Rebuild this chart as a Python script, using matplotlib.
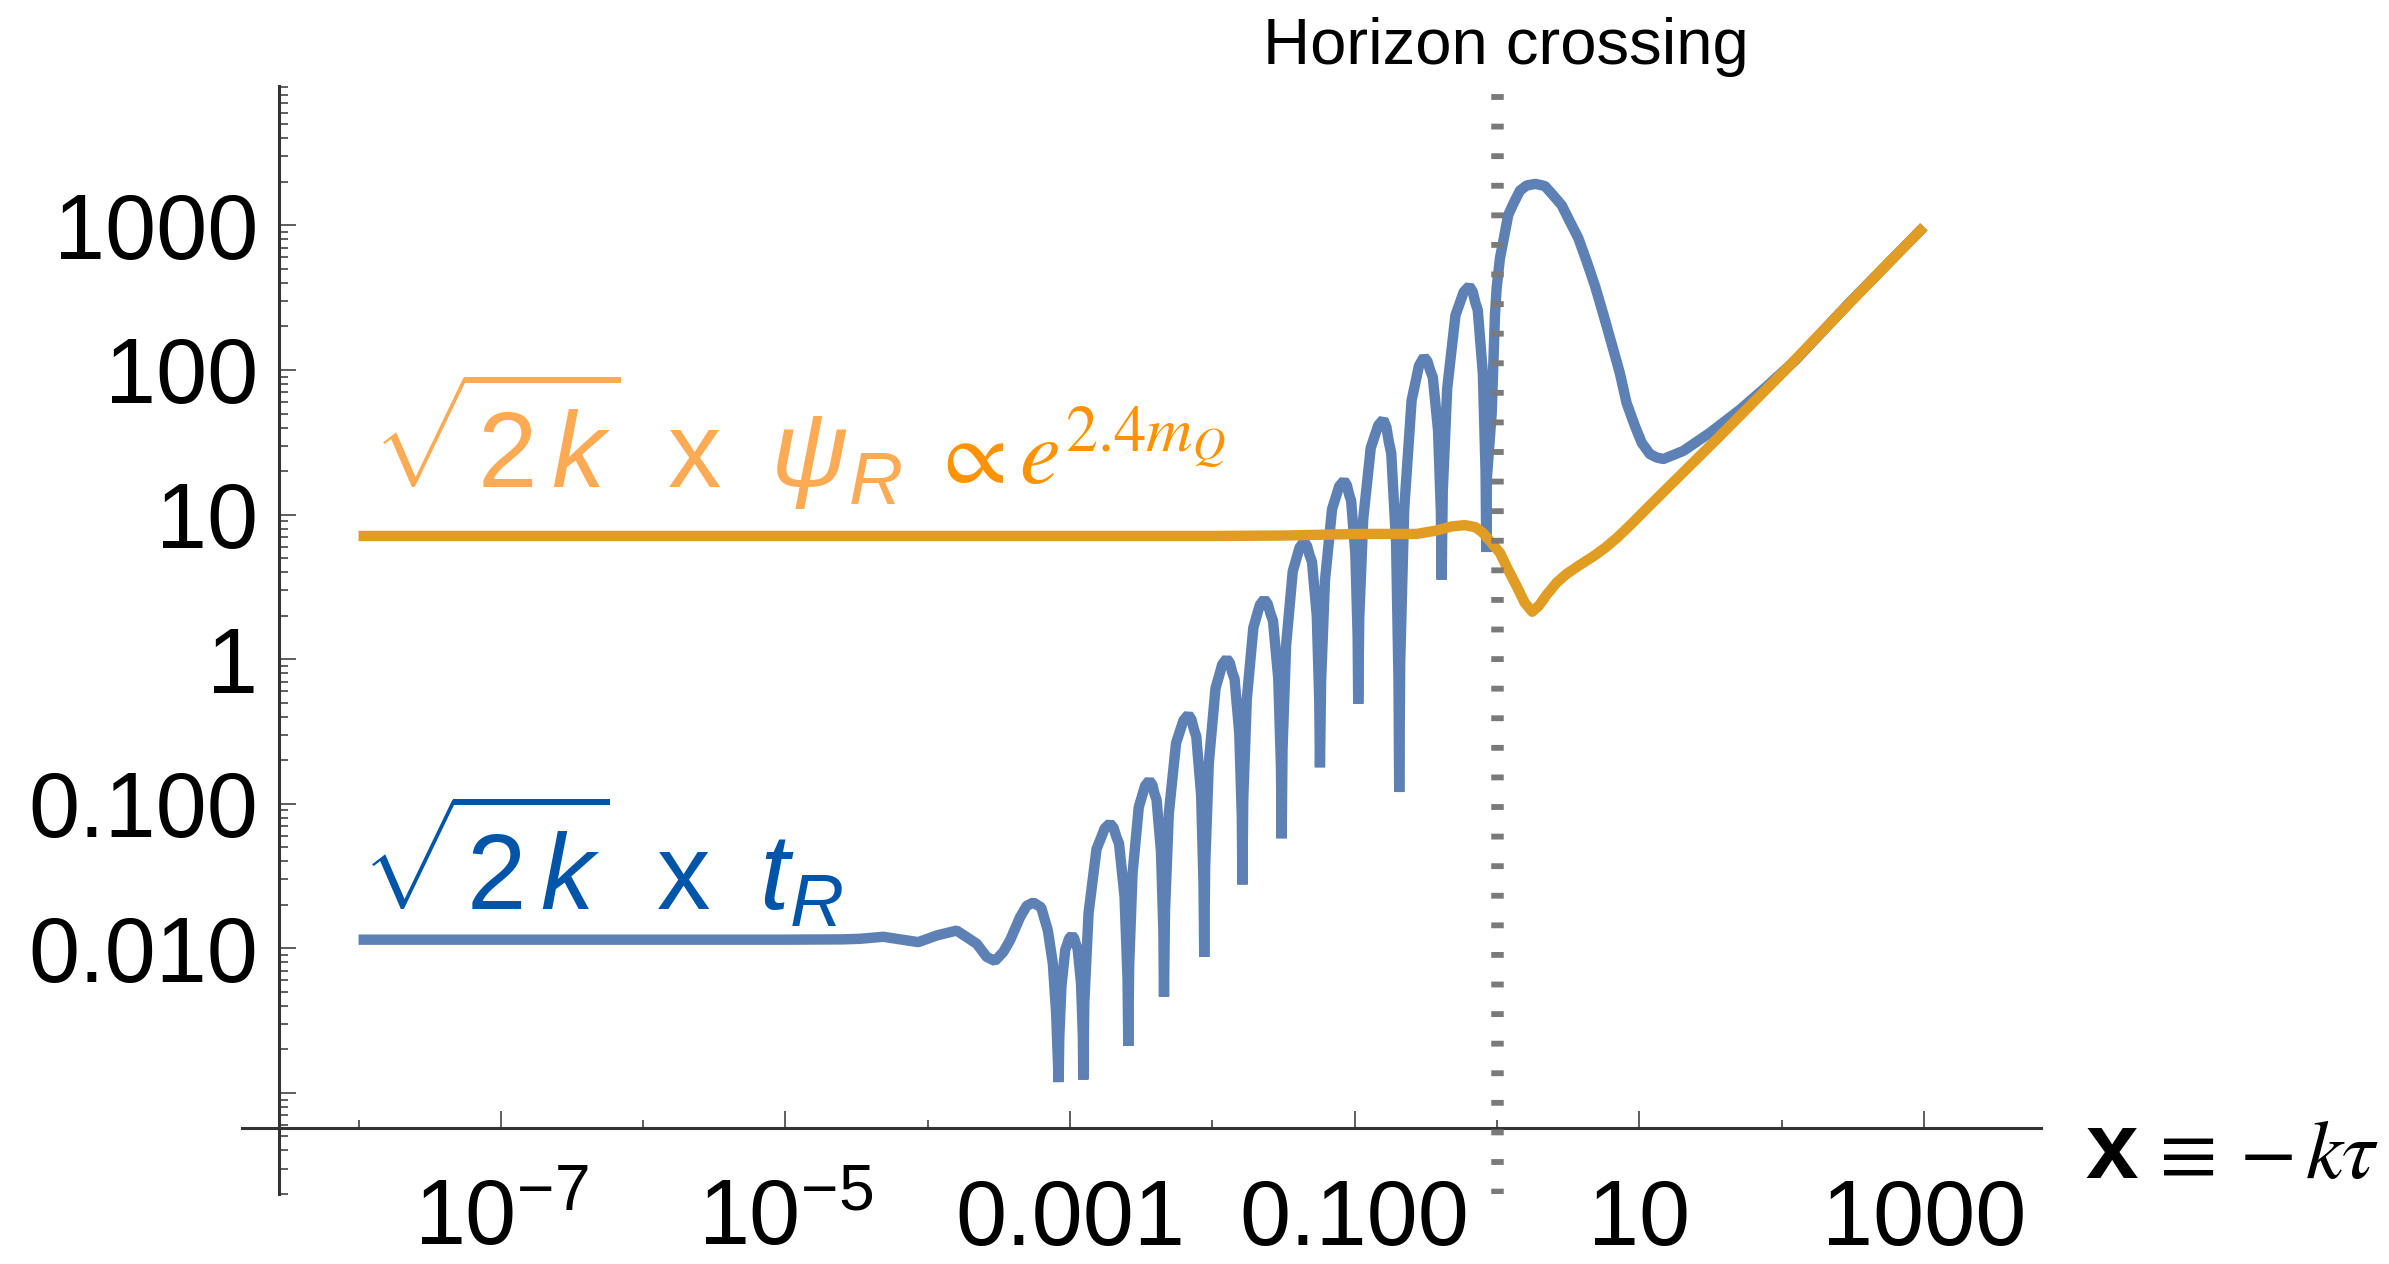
import numpy as np
import matplotlib
matplotlib.use("Agg")
import matplotlib.pyplot as plt
from matplotlib.ticker import NullFormatter

# ---------------- data (log10 coordinates) ----------------
# blue curve: sqrt(2k) x t_R
t_log10x = [-8.0, -6.0, -5.0, -4.6, -4.476, -4.313, -4.195, -4.067, -3.937, -3.797,
            -3.656, -3.586, -3.528, -3.469, -3.422, -3.352, -3.305, -3.258, -3.203, -3.156,
            -3.121, -3.098, -3.080,
            -3.076, -3.061, -3.034, -3.020, -3.006, -2.987, -2.971, -2.959, -2.947, -2.923, -2.910, -2.907,
            -2.900, -2.870, -2.814, -2.785, -2.757, -2.720, -2.694, -2.675, -2.656, -2.617, -2.596, -2.591,
            -2.585, -2.561, -2.517, -2.495, -2.473, -2.443, -2.422, -2.407, -2.392, -2.361, -2.344, -2.340,
            -2.333, -2.306, -2.255, -2.229, -2.203, -2.169, -2.147, -2.130, -2.113, -2.079, -2.062, -2.057,
            -2.051, -2.025, -1.978, -1.954, -1.931, -1.899, -1.877, -1.861, -1.844, -1.811, -1.793, -1.789,
            -1.783, -1.758, -1.712, -1.689, -1.666, -1.635, -1.611, -1.592, -1.574, -1.537, -1.518, -1.513,
            -1.507, -1.482, -1.435, -1.411, -1.387, -1.356, -1.334, -1.317, -1.300, -1.266, -1.249, -1.244,
            -1.236, -1.209, -1.159, -1.134, -1.109, -1.075, -1.055, -1.040, -1.025, -0.995, -0.979, -0.975,
            -0.968, -0.940, -0.887, -0.861, -0.834, -0.799, -0.777, -0.760, -0.743, -0.709, -0.692, -0.687,
            -0.680, -0.652, -0.600, -0.574, -0.548, -0.513, -0.488, -0.470, -0.451, -0.414, -0.394, -0.389,
            -0.381, -0.350, -0.292, -0.263, -0.234, -0.195, -0.171, -0.153, -0.135, -0.099, -0.080, -0.075,
            -0.071, -0.037, -0.014, -0.002, 0.021, 0.044, 0.079, 0.115, 0.162, 0.209,
            0.270, 0.337, 0.396, 0.455, 0.513, 0.572, 0.630, 0.689, 0.747, 0.806,
            0.864, 0.911, 0.970, 1.017, 1.075, 1.122, 1.169, 1.309, 1.497, 1.708,
            1.900, 2.100, 2.481, 3.0]
t_log10y = [-1.940, -1.940, -1.940, -1.938, -1.934, -1.920, -1.938, -1.957, -1.911, -1.877,
            -1.968, -2.059, -2.087, -2.025, -1.945, -1.786, -1.706, -1.683, -1.717, -1.877,
            -2.105, -2.447, -2.925,
            -2.621, -2.266, -2.012, -1.972, -1.931, -1.911, -1.931, -1.971, -2.001, -2.240, -2.608, -2.907,
            -2.376, -1.756, -1.313, -1.242, -1.171, -1.136, -1.167, -1.228, -1.275, -1.644, -2.213, -2.675,
            -2.124, -1.482, -1.023, -0.949, -0.876, -0.839, -0.869, -0.929, -0.973, -1.332, -1.885, -2.333,
            -1.748, -1.066, -0.579, -0.501, -0.423, -0.384, -0.417, -0.484, -0.535, -0.937, -1.556, -2.059,
            -1.440, -0.718, -0.202, -0.120, -0.037, 0.004, -0.027, -0.090, -0.137, -0.511, -1.089, -1.558,
            -0.966, -0.276, 0.218, 0.297, 0.376, 0.415, 0.382, 0.316, 0.266, -0.131, -0.743, -1.239,
            -0.623, 0.095, 0.608, 0.690, 0.772, 0.813, 0.782, 0.719, 0.673, 0.298, -0.280, -0.748,
            -0.153, 0.541, 1.037, 1.116, 1.195, 1.235, 1.204, 1.142, 1.096, 0.726, 0.155, -0.308,
            0.282, 0.969, 1.461, 1.539, 1.618, 1.657, 1.605, 1.502, 1.425, 0.807, -0.146, -0.919,
            -0.016, 1.037, 1.789, 1.909, 2.030, 2.090, 2.059, 1.998, 1.951, 1.582, 1.013, 0.551,
            1.160, 1.870, 2.377, 2.458, 2.539, 2.580, 2.543, 2.470, 2.414, 1.973, 1.293, 0.741,
            1.250, 1.703, 2.386, 2.569, 2.774, 2.889, 3.071, 3.150, 3.241, 3.276,
            3.287, 3.272, 3.207, 3.139, 3.025, 2.911, 2.752, 2.581, 2.386, 2.181,
            1.976, 1.771, 1.611, 1.497, 1.418, 1.395, 1.384, 1.440, 1.566, 1.726,
            1.890, 2.070, 2.470, 2.990]

# orange curve: sqrt(2k) x psi_R
psi_log10x = [-8.0, -2.0, -1.5, -0.963, -0.564, -0.424, -0.320, -0.225, -0.150, -0.096,
              -0.035, 0.021, 0.075, 0.138, 0.195, 0.248, 0.295, 0.349, 0.420, 0.490,
              0.580, 0.677, 0.760, 0.841, 0.950, 1.075, 1.544, 2.012, 2.481, 3.0]
psi_log10y = [0.852, 0.852, 0.855, 0.866, 0.866, 0.890, 0.918, 0.927, 0.912, 0.871,
              0.800, 0.735, 0.625, 0.505, 0.390, 0.328, 0.370, 0.445, 0.530, 0.590,
              0.650, 0.711, 0.770, 0.837, 0.940, 1.064, 1.521, 1.985, 2.466, 2.990]

horizon_x = 1.0

x_major = [1e-7, 1e-5, 1e-3, 1e-1, 1e1, 1e3]
x_major_labels = [r"$\mathregular{10^{-7}}$", r"$\mathregular{10^{-5}}$", "0.001", "0.100", "10", "1000"]
x_minor = [1e-8, 1e-6, 1e-4, 1e-2, 1e0, 1e2]
y_major = [1e-3, 1e-2, 1e-1, 1e0, 1e1, 1e2, 1e3]
y_major_labels = ["", "0.010", "0.100", "1", "10", "100", "1000"]
y_minor = [k * 10.0 ** n for n in range(-4, 4) for k in range(2, 10)]

x_lim_log = (-8.819, 3.823)
y_lim_log = (-3.614, 3.964)
x_spine_log = -8.56
y_spine_log = -3.245

# ---------------- style ----------------
plt.rcParams["font.family"] = ["Liberation Sans", "DejaVu Sans"]
plt.rcParams["mathtext.fontset"] = "custom"
plt.rcParams["mathtext.rm"] = "Liberation Sans"
plt.rcParams["mathtext.it"] = "Liberation Sans:italic"
plt.rcParams["mathtext.bf"] = "Liberation Sans:bold"
plt.rcParams["lines.scale_dashes"] = False

W, H = 2389, 1264
fig = plt.figure(figsize=(W / 100, H / 100), dpi=100)


def fx(px):
    return px / W


def fy(py):
    return 1 - py / H


ax = fig.add_axes([fx(242), fy(1194), fx(2041) - fx(242), fy(86) - fy(1194)])
ax.set_xscale("log")
ax.set_yscale("log")
ax.set_xlim(10 ** x_lim_log[0], 10 ** x_lim_log[1])
ax.set_ylim(10 ** y_lim_log[0], 10 ** y_lim_log[1])
ax.patch.set_alpha(0)

axis_col = "#333333"
for s in ["top", "right"]:
    ax.spines[s].set_visible(False)
ax.spines["left"].set_position(("data", 10 ** x_spine_log))
ax.spines["bottom"].set_position(("data", 10 ** y_spine_log))
for s in ["left", "bottom"]:
    ax.spines[s].set_linewidth(2.2)
    ax.spines[s].set_color(axis_col)

ax.set_xticks(x_major, labels=x_major_labels)
ax.set_xticks(x_minor, minor=True)
ax.set_yticks(y_major, labels=y_major_labels)
ax.set_yticks(y_minor, minor=True)
ax.xaxis.set_minor_formatter(NullFormatter())
ax.yaxis.set_minor_formatter(NullFormatter())

ax.tick_params(axis="both", which="both", direction="in", color=axis_col, width=1.1)
ax.tick_params(axis="x", which="major", length=12, pad=84, labelsize=66)
ax.tick_params(axis="x", which="minor", length=6)
ax.tick_params(axis="y", which="major", length=12, pad=15, labelsize=66)
ax.tick_params(axis="y", which="minor", length=6.5)
for t in ax.xaxis.get_major_ticks():
    t.label1.set_verticalalignment("baseline")

# ---------------- curves ----------------
ax.plot(10 ** np.array(t_log10x), 10 ** np.array(t_log10y), color="#5E81B5", lw=7.5,
        solid_joinstyle="bevel", solid_capstyle="butt", zorder=3, clip_on=False)
ax.plot(10 ** np.array(psi_log10x), 10 ** np.array(psi_log10y), color="#E19C24", lw=7.5,
        solid_joinstyle="round", solid_capstyle="butt", zorder=4, clip_on=False)
ax.axvline(horizon_x, ymin=0, ymax=0.994, color="#7A7A7A", lw=9, dashes=(4.2, 17.1),
           zorder=5)

# ---------------- texts ----------------
fig.text(fx(1506), fy(64), "Horizon crossing", ha="center", va="baseline", fontsize=47,
         color="black")
fig.text(fx(372), fy(488), r"$\sqrt{2\,k}\;\;\mathrm{x}\;\;\psi_R$", ha="left", va="baseline",
         fontsize=77, color="#FDAA55")
fig.text(fx(930), fy(484), r"$\propto e^{2.4 m_Q}$", ha="left", va="baseline",
         fontsize=66, color="#FF9200", math_fontfamily="stix")
fig.text(fx(361), fy(910), r"$\sqrt{2\,k}\;\;\mathrm{x}\;\;t_R$", ha="left", va="baseline",
         fontsize=77, color="#0055A8")
fig.text(fx(2085), fy(1178), "x", ha="left", va="baseline", fontsize=68, fontweight="bold",
         color="black")
fig.text(fx(2160), fy(1178), "\u2261", ha="left", va="baseline", fontsize=60,
         family="STIXGeneral", color="black")
fig.text(fx(2240), fy(1178), "\u2212", ha="left", va="baseline", fontsize=60,
         family="STIXGeneral", color="black")
fig.text(fx(2306), fy(1178), "k\u03c4", ha="left", va="baseline", fontsize=60,
         family="STIXGeneral", style="italic", color="black")

fig.savefig("out.png", dpi=100)
